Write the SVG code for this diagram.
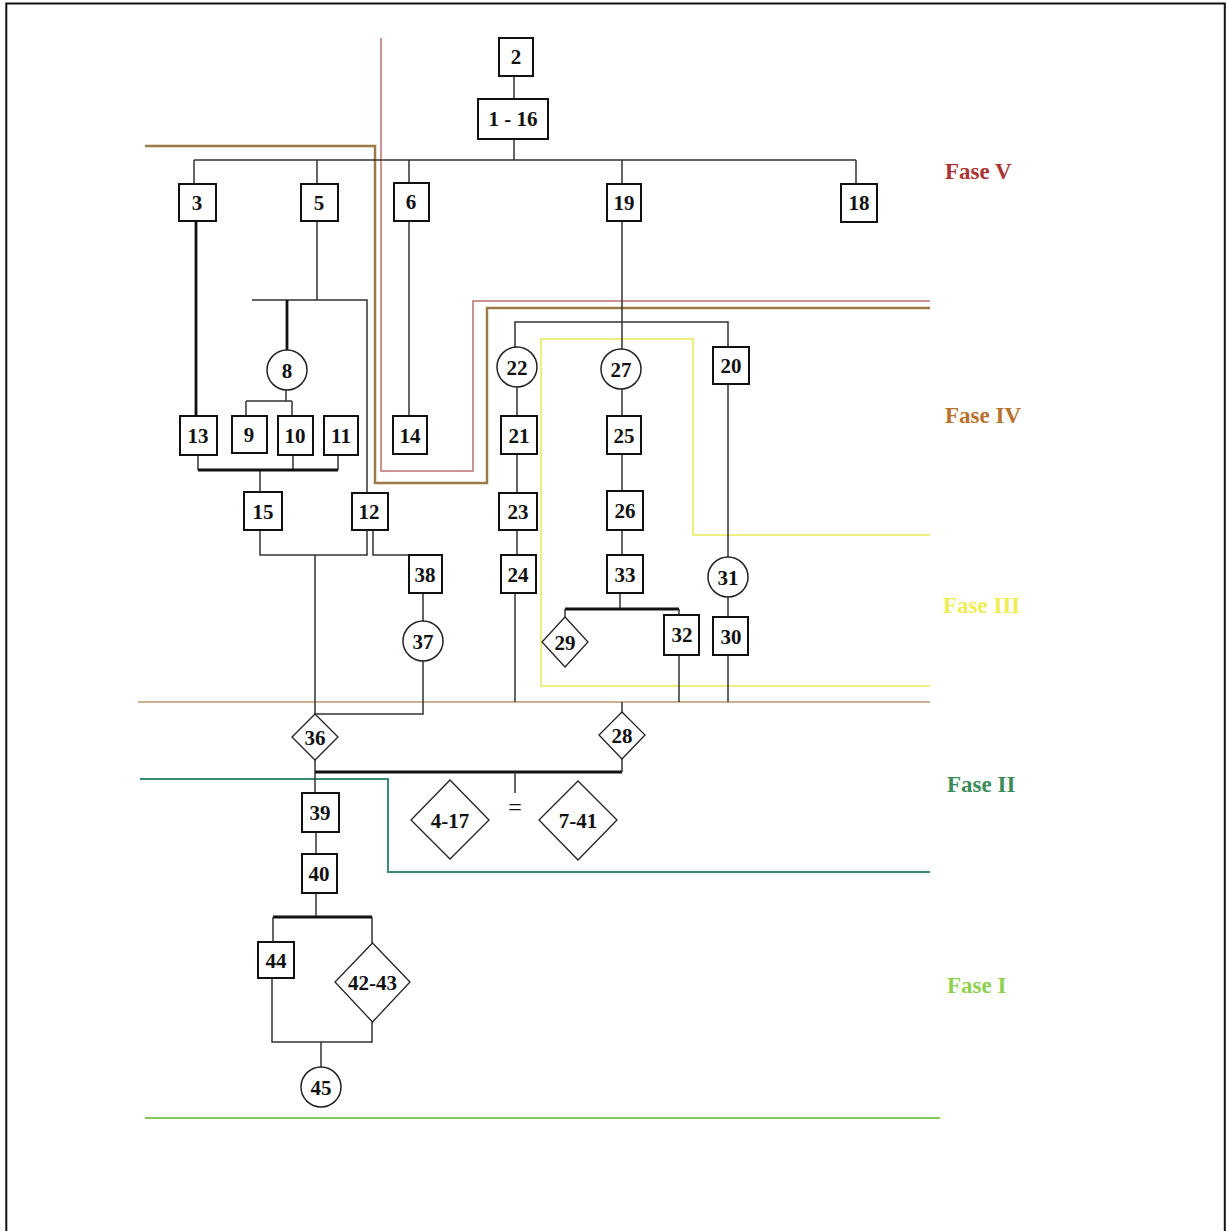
<svg xmlns="http://www.w3.org/2000/svg" width="1227" height="1231" viewBox="0 0 1227 1231">
<style>
.bx{fill:#fff;stroke:#111;stroke-width:2}
.ci{fill:#fff;stroke:#222;stroke-width:1.5}
.di{fill:#fff;stroke:#222;stroke-width:1.3}
.lb{font-family:"Liberation Serif","Times New Roman",serif;font-weight:bold;font-size:21px;fill:#111;text-anchor:middle}
.ph{font-family:"Liberation Serif","Times New Roman",serif;font-weight:bold;font-size:23px}
.c{fill:none;stroke:#333;stroke-width:1.5}
.t{fill:none;stroke:#111;stroke-width:2.8}
</style>
<rect width="1227" height="1231" fill="#fff"/>
<path d="M6.3,1231 V3.5 H1224.8 V1231" fill="none" stroke="#111" stroke-width="2"/>
<g id="phases" fill="none">
<path d="M381,38 V471 H473 V301 H930" stroke="#b87070" stroke-width="1.5"/>
<path d="M145,146 H375 V483 H487 V308 H930" stroke="#9c7a48" stroke-width="2.5"/>
<path d="M138,702 H930" stroke="#b89a70" stroke-width="1.5"/>
<path d="M930,686 H541 V339 H693 V535 H930" stroke="#eeee80" stroke-width="2"/>
<path d="M140,779 H388 V872 H930" stroke="#3e8a70" stroke-width="2"/>
<path d="M145,1118 H940" stroke="#88c858" stroke-width="2"/>
</g>
<g id="phase-labels" class="ph">
<text x="945" y="179" fill="#a83434">Fase V</text>
<text x="945" y="423" fill="#b8722c">Fase IV</text>
<text x="943" y="613" fill="#eeee50">Fase III</text>
<text x="947" y="792" fill="#3c8c5a">Fase II</text>
<text x="947" y="993" fill="#90d050">Fase I</text>
</g>
<g id="connectors">
<path class="c" d="M514,76 V99 M514,139 V160 M194,160 H856 M194,160 V184 M317,160 V184 M409,160 V183 M622,160 V184 M856,160 V184"/>
<path class="t" d="M196,221 V416"/>
<path class="c" d="M317,221 V300 M252,300 H367 V493"/>
<path class="t" d="M287,300 V350"/>
<path class="c" d="M286,390 V401 M246,401 H292 M246,401 V416 M292,401 V416"/>
<path class="c" d="M409,221 V416"/>
<path class="c" d="M198,455 V470 M293,455 V470 M338,455 V470 M260,470 V492"/>
<path class="t" d="M198,470 H338"/>
<path class="c" d="M260,530 V555 H367 V530 M315,555 V714"/>
<path class="c" d="M373,530 V555 H409"/>
<path class="c" d="M423,593 V621 M423,661 V714 H315"/>
<path class="c" d="M315,760 V793"/>
<path class="t" d="M315,772 H622"/>
<path class="c" d="M622,772 V759 M515,772 V793 M622,702 V712"/>
<path class="c" d="M316,832 V854 M316,893 V917"/>
<path class="t" d="M273,917 H372"/>
<path class="c" d="M273,917 V942 M372,917 V943 M272,978 V1042 H372 V1022 M321,1042 V1067"/>
<path class="c" d="M622,221 V349 M515,347 V322 H728 V347"/>
<path class="c" d="M517,387 V416 M517,454 V493 M517,530 V555 M515,593 V702"/>
<path class="c" d="M622,389 V416 M622,454 V491 M622,530 V555 M620,593 V609"/>
<path class="t" d="M565,609 H679"/>
<path class="c" d="M565,609 V617 M679,609 V615 M679,655 V702"/>
<path class="c" d="M728,384 V557 M728,597 V617 M728,655 V702"/>
<text class="lb" x="515" y="815" style="font-weight:normal;font-size:24px">=</text>
</g>
<g id="n2"><rect class="bx" x="499" y="38" width="34" height="38"/><text class="lb" x="516" y="64">2</text></g>
<g id="n1-16"><rect class="bx" x="478" y="99" width="70" height="40"/><text class="lb" x="513" y="126">1 - 16</text></g>
<g id="n3"><rect class="bx" x="179" y="184" width="37" height="37"/><text class="lb" x="197" y="210">3</text></g>
<g id="n5"><rect class="bx" x="301" y="184" width="37" height="37"/><text class="lb" x="319" y="210">5</text></g>
<g id="n6"><rect class="bx" x="394" y="183" width="35" height="38"/><text class="lb" x="411" y="209">6</text></g>
<g id="n19"><rect class="bx" x="607" y="184" width="34" height="37"/><text class="lb" x="624" y="210">19</text></g>
<g id="n18"><rect class="bx" x="841" y="184" width="36" height="38"/><text class="lb" x="859" y="210">18</text></g>
<g id="n8"><circle class="ci" cx="287" cy="370" r="20"/><text class="lb" x="287" y="378">8</text></g>
<g id="n13"><rect class="bx" x="180" y="416" width="37" height="39"/><text class="lb" x="198" y="443">13</text></g>
<g id="n9"><rect class="bx" x="232" y="416" width="35" height="37"/><text class="lb" x="249" y="442">9</text></g>
<g id="n10"><rect class="bx" x="278" y="416" width="35" height="39"/><text class="lb" x="295" y="443">10</text></g>
<g id="n11"><rect class="bx" x="324" y="416" width="34" height="39"/><text class="lb" x="341" y="443">11</text></g>
<g id="n14"><rect class="bx" x="393" y="416" width="34" height="38"/><text class="lb" x="410" y="443">14</text></g>
<g id="n15"><rect class="bx" x="244" y="492" width="38" height="38"/><text class="lb" x="263" y="519">15</text></g>
<g id="n12"><rect class="bx" x="352" y="493" width="36" height="37"/><text class="lb" x="369" y="519">12</text></g>
<g id="n22"><circle class="ci" cx="517" cy="367" r="20"/><text class="lb" x="517" y="375">22</text></g>
<g id="n21"><rect class="bx" x="501" y="416" width="36" height="38"/><text class="lb" x="519" y="443">21</text></g>
<g id="n23"><rect class="bx" x="499" y="493" width="38" height="37"/><text class="lb" x="518" y="519">23</text></g>
<g id="n24"><rect class="bx" x="501" y="555" width="35" height="38"/><text class="lb" x="518" y="582">24</text></g>
<g id="n38"><rect class="bx" x="409" y="555" width="33" height="38"/><text class="lb" x="425" y="582">38</text></g>
<g id="n37"><circle class="ci" cx="423" cy="641" r="20"/><text class="lb" x="423" y="649">37</text></g>
<g id="n27"><circle class="ci" cx="621" cy="369" r="20"/><text class="lb" x="621" y="377">27</text></g>
<g id="n25"><rect class="bx" x="607" y="416" width="34" height="38"/><text class="lb" x="624" y="443">25</text></g>
<g id="n26"><rect class="bx" x="607" y="491" width="36" height="39"/><text class="lb" x="625" y="518">26</text></g>
<g id="n33"><rect class="bx" x="607" y="555" width="36" height="38"/><text class="lb" x="625" y="582">33</text></g>
<g id="n20"><rect class="bx" x="713" y="347" width="36" height="37"/><text class="lb" x="731" y="373">20</text></g>
<g id="n31"><circle class="ci" cx="728" cy="577" r="20"/><text class="lb" x="728" y="585">31</text></g>
<g id="n29"><polygon class="di" points="565,617 588,642 565,667 542,642"/><text class="lb" x="565" y="650">29</text></g>
<g id="n32"><rect class="bx" x="664" y="615" width="35" height="40"/><text class="lb" x="682" y="642">32</text></g>
<g id="n30"><rect class="bx" x="713" y="617" width="35" height="38"/><text class="lb" x="731" y="644">30</text></g>
<g id="n36"><polygon class="di" points="315,714 338,737 315,760 292,737"/><text class="lb" x="315" y="745">36</text></g>
<g id="n28"><polygon class="di" points="622,712 645,735 622,759 599,735"/><text class="lb" x="622" y="743">28</text></g>
<g id="n4-17"><polygon class="di" points="450,780 489,820 450,859 411,820"/><text class="lb" x="450" y="828">4-17</text></g>
<g id="n7-41"><polygon class="di" points="578,781 617,820 578,860 539,820"/><text class="lb" x="578" y="828">7-41</text></g>
<g id="n39"><rect class="bx" x="302" y="793" width="37" height="39"/><text class="lb" x="320" y="820">39</text></g>
<g id="n40"><rect class="bx" x="302" y="854" width="35" height="39"/><text class="lb" x="319" y="881">40</text></g>
<g id="n44"><rect class="bx" x="258" y="942" width="36" height="36"/><text class="lb" x="276" y="968">44</text></g>
<g id="n42-43"><polygon class="di" points="372.5,943 410,982 372.5,1022 335,982"/><text class="lb" x="372.5" y="990">42-43</text></g>
<g id="n45"><circle class="ci" cx="321" cy="1087" r="20"/><text class="lb" x="321" y="1095">45</text></g>
</svg>
